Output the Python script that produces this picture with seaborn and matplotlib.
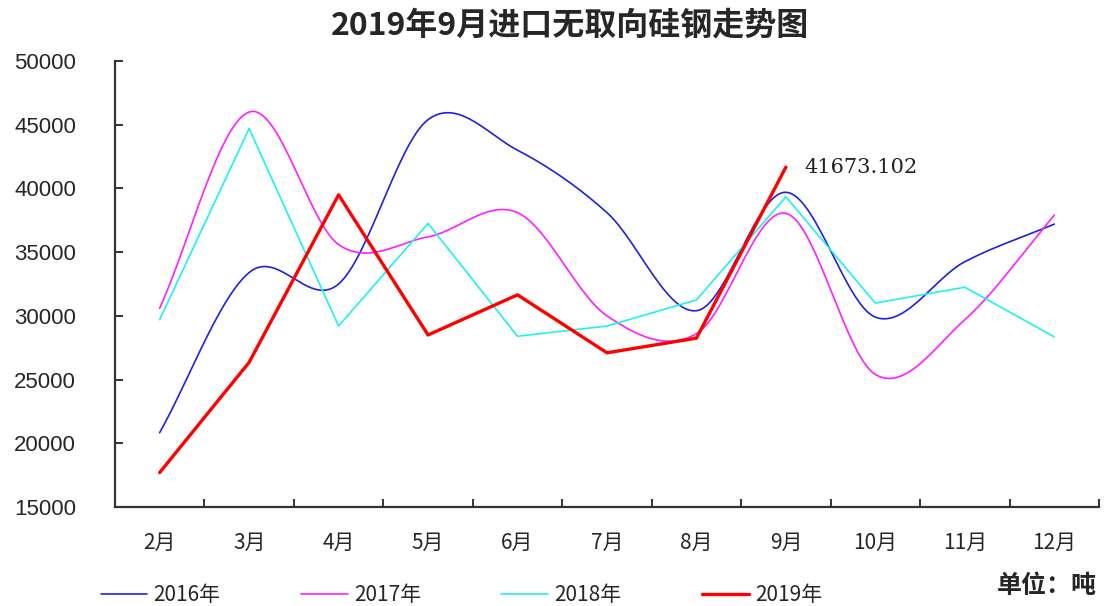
import numpy as np
import matplotlib
matplotlib.use("Agg")
import matplotlib.pyplot as plt
import seaborn as sns

months = ["2月", "3月", "4月", "5月", "6月", "7月", "8月", "9月", "10月", "11月", "12月"]
y2016 = [20830, 33400, 32500, 45400, 43000, 38100, 30400, 39700, 29900, 34250, 37200]
y2017 = [30600, 46000, 35600, 36200, 38100, 30000, 28600, 38050, 25400, 29700, 37900]
y2018 = [29700, 44700, 29200, 37250, 28400, 29200, 31250, 39350, 31000, 32250, 28350]
y2019 = [17700, 26350, 39500, 28500, 31650, 27100, 28250, 41673.102]

sns.set_style("white")
plt.rcParams['font.family'] = ['Noto Sans CJK SC', 'DejaVu Sans']


def smooth(vals, n=30):
    # Excel-style smoothed line (Catmull-Rom through the data points)
    x = np.arange(len(vals), dtype=float)
    y = np.asarray(vals, dtype=float)
    px = np.concatenate([[2 * x[0] - x[1]], x, [2 * x[-1] - x[-2]]])
    py = np.concatenate([[2 * y[0] - y[1]], y, [2 * y[-1] - y[-2]]])
    xs, ys = [], []
    t = np.linspace(0, 1, n, endpoint=False)
    for i in range(1, len(px) - 2):
        for p, out in ((px, xs), (py, ys)):
            p0, p1, p2, p3 = p[i - 1], p[i], p[i + 1], p[i + 2]
            out.extend(0.5 * (2 * p1 + (-p0 + p2) * t
                              + (2 * p0 - 5 * p1 + 4 * p2 - p3) * t ** 2
                              + (-p0 + 3 * p1 - 3 * p2 + p3) * t ** 3))
    xs.append(x[-1])
    ys.append(y[-1])
    return np.array(xs), np.array(ys)


fig = plt.figure(figsize=(11.05, 6.06), dpi=100)
ax = fig.add_axes([0.104, 0.1634, 0.8906, 0.7359])

sx, sy = smooth(y2016)
sns.lineplot(x=sx, y=sy, ax=ax, color="#2020e0", lw=1.2, sort=False, label="2016年")
sx, sy = smooth(y2017)
sns.lineplot(x=sx, y=sy, ax=ax, color="#ff20ff", lw=1.2, sort=False, label="2017年")
sns.lineplot(x=np.arange(len(y2018)), y=y2018, ax=ax, color="#20f0f0", lw=1.2, label="2018年")
sns.lineplot(x=np.arange(len(y2019)), y=y2019, ax=ax, color="#ff0000", lw=2.4, label="2019年")

ax.annotate(f"{y2019[-1]:.3f}", xy=(7, y2019[-1]), xytext=(13, 0), textcoords="offset points",
            ha="left", va="center", fontsize=15, family="DejaVu Serif", color="#222222")

ax.set_xlim(-0.5, len(months) - 0.5)
ax.set_ylim(15000, 50000)
ax.set_yticks(range(15000, 50001, 5000))
ax.set_yticklabels([str(v) for v in range(15000, 50001, 5000)], family="Liberation Sans", fontsize=16)
ax.set_xticks(np.arange(len(months)))
ax.set_xticklabels(months, fontsize=15)
ax.set_xticks(np.arange(len(months) + 1) - 0.5, minor=True)
ax.tick_params(axis="x", which="major", bottom=False, length=0, pad=18)
ax.tick_params(axis="x", which="minor", bottom=True, direction="in", length=6, width=1.4, color="#333333")
ax.tick_params(axis="y", left=True, direction="in", length=6, width=1.4, color="#333333", pad=28)
for s in ["top", "right"]:
    ax.spines[s].set_visible(False)
for s in ["left", "bottom"]:
    ax.spines[s].set_color("#333333")
    ax.spines[s].set_linewidth(1.6)

handles, labels = ax.get_legend_handles_labels()
ax.get_legend().remove()
fig.legend(handles, labels, loc="center left", bbox_to_anchor=(0.074, 0.018), ncol=4, frameon=False,
           fontsize=15, handlelength=2.25, handletextpad=0.3, columnspacing=3.85)

fig.text(0.516, 0.958, "2019年9月进口无取向硅钢走势图", ha="center", va="center",
         fontsize=23, fontweight="bold")
fig.text(0.993, 0.033, "单位：吨", ha="right", va="center", fontsize=18, fontweight="bold")

fig.savefig("out.png", dpi=100)
